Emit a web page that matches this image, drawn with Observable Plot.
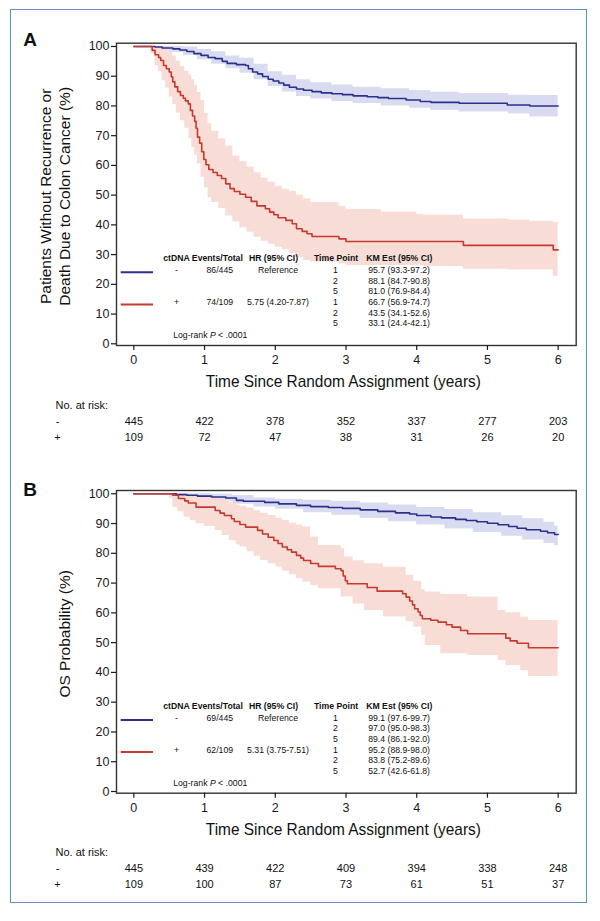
<!DOCTYPE html>
<html>
<head>
<meta charset="utf-8">
<script src="https://cdn.jsdelivr.net/npm/d3@7"></script>
<script src="https://cdn.jsdelivr.net/npm/@observablehq/plot@0.6"></script>
<style>
  body { margin: 0; background: #fff; }
  #page { position: relative; width: 600px; height: 921px; background: #fff; overflow: hidden; }
  #a, #b { position: absolute; left: 0; }
  #a { top: 0; }
  #b { top: 450px; }
  #border { position: absolute; left: 10.25px; top: 9.25px; width: 576.5px; height: 894px; box-sizing: border-box; border: 1.5px solid #5d92c8; pointer-events: none; }
</style>
</head>
<body>
<div id="page">
  <div id="a"></div>
  <div id="b"></div>
  <div id="border"></div>
</div>
<script>
// ---------- data ----------
const xTicks = [0, 1, 2, 3, 4, 5, 6];
const yTicks = [0, 10, 20, 30, 40, 50, 60, 70, 80, 90, 100];
const xTitle = "Time Since Random Assignment (years)";
const yTitleA = "Patients Without Recurrence or\nDeath Due to Colon Cancer (%)";
const yTitleB = "OS Probability (%)";
const panelLetters = ["A", "B"];
const groups = ["-", "+"];
const legendHeaders = ["ctDNA Events/Total", "HR (95% CI)", "Time Point", "KM Est (95% CI)"];
const timePoints = ["1", "2", "5"];
const logRankParts = ["Log-rank ", "P", " < .0001"];
const riskLabel = "No. at risk:";

const eventsA = ["86/445", "74/109"];
const hrA = ["Reference", "5.75 (4.20-7.87)"];
const kmA = ["95.7 (93.3-97.2)", "88.1 (84.7-90.8)", "81.0 (76.9-84.4)", "66.7 (56.9-74.7)", "43.5 (34.1-52.6)", "33.1 (24.4-42.1)"];
const riskA_neg = [445, 422, 378, 352, 337, 277, 203];
const riskA_pos = [109, 72, 47, 38, 31, 26, 20];

const eventsB = ["69/445", "62/109"];
const hrB = ["Reference", "5.31 (3.75-7.51)"];
const kmB = ["99.1 (97.6-99.7)", "97.0 (95.0-98.3)", "89.4 (86.1-92.0)", "95.2 (88.9-98.0)", "83.8 (75.2-89.6)", "52.7 (42.6-61.8)"];
const riskB_neg = [445, 439, 422, 409, 394, 338, 248];
const riskB_pos = [109, 100, 87, 73, 61, 51, 37];

// KM step curves [time, survival %]
const dfsNeg = [[0,100],[0.3,99.8],[0.4,99.5],[0.55,99.2],[0.65,98.8],[0.75,98.3],[0.85,97.6],[0.95,97.0],[1.05,96.3],[1.15,95.9],[1.25,95.0],[1.32,94.3],[1.45,93.9],[1.58,93.6],[1.62,92.5],[1.68,91.4],[1.75,90.8],[1.82,89.9],[1.9,89.0],[1.97,88.4],[2.05,87.7],[2.12,87.0],[2.2,86.3],[2.3,85.7],[2.4,85.3],[2.52,84.8],[2.65,84.4],[2.8,84.1],[2.95,83.8],[3.1,83.4],[3.3,83.1],[3.45,82.8],[3.6,82.5],[3.85,82.0],[4.05,81.5],[4.2,81.2],[4.6,80.9],[5.28,80.3],[5.6,80.0],[6.0,80.0]];
const dfsPos = [[0,100],[0.24,100],[0.26,98.7],[0.3,97.2],[0.35,96.3],[0.38,95.3],[0.42,93.6],[0.46,92.5],[0.5,91.4],[0.53,89.8],[0.55,88.1],[0.58,86.4],[0.62,84.8],[0.66,83.5],[0.7,82.6],[0.73,81.7],[0.77,80.7],[0.8,78.5],[0.83,76.6],[0.86,74.8],[0.88,72.5],[0.9,69.5],[0.93,67.5],[0.96,64.6],[0.99,62.0],[1.02,60.2],[1.06,58.6],[1.12,57.6],[1.18,56.6],[1.24,55.6],[1.3,53.8],[1.36,52.2],[1.42,51.2],[1.5,50.3],[1.58,49.3],[1.66,47.9],[1.74,46.4],[1.86,45.4],[1.92,44.3],[1.98,43.4],[2.04,42.4],[2.15,41.5],[2.24,40.4],[2.3,38.7],[2.38,37.8],[2.45,37.0],[2.52,36.1],[2.9,35.3],[3.0,34.4],[4.66,33.1],[5.93,31.6],[6.0,31.6]];
const osNeg = [[0,100],[0.5,100],[0.6,99.7],[0.75,99.5],[0.9,99.2],[1.1,98.9],[1.3,98.6],[1.45,97.8],[1.55,97.5],[1.85,97.1],[2.05,96.6],[2.3,96.1],[2.5,95.7],[2.75,95.4],[2.95,95.1],[3.2,94.6],[3.45,94.1],[3.7,93.6],[3.9,93.2],[4.0,92.7],[4.2,92.2],[4.35,91.9],[4.55,91.4],[4.7,91.0],[4.85,90.6],[5.0,90.1],[5.15,89.6],[5.3,89.0],[5.42,88.4],[5.55,87.9],[5.75,87.4],[5.85,86.9],[5.95,86.3],[6,86.3]];
const osPos = [[0,100],[0.5,100],[0.55,99.5],[0.63,98.4],[0.72,97.6],[0.77,96.9],[0.88,95.5],[1.15,94.4],[1.22,93.5],[1.28,92.7],[1.38,91.6],[1.42,90.7],[1.5,89.7],[1.58,88.8],[1.75,87.7],[1.82,86.5],[1.9,85.4],[1.98,84.3],[2.04,83.3],[2.1,82.1],[2.17,81.2],[2.23,80.4],[2.3,79.3],[2.36,78.4],[2.4,77.6],[2.5,76.6],[2.61,75.6],[2.85,74.8],[2.93,74.2],[2.96,72.4],[2.99,70.8],[3.02,69.8],[3.3,68.5],[3.44,67.3],[3.8,66.4],[3.85,65.3],[3.9,64.0],[3.94,62.7],[3.97,61.4],[4.02,60.3],[4.05,59.1],[4.08,58.0],[4.2,57.5],[4.3,56.9],[4.42,56.0],[4.5,55.2],[4.62,54.1],[4.72,53.0],[5.26,51.5],[5.32,50.6],[5.42,49.8],[5.58,48.3],[6.0,48.3]];

// confidence bands [time, lower, upper]
const dfsNegCI = [[0,100,100],[0.3,99,100],[0.5,98,100],[0.7,97,99.8],[0.9,95.5,99],[1.1,94,98.2],[1.3,92.5,96.8],[1.5,91,96],[1.7,88.8,94],[1.9,86.5,91.5],[2.1,84.7,90.3],[2.3,83.2,88.8],[2.5,82.3,87.8],[2.8,81.5,87.0],[3.1,80.8,86.3],[3.5,80,85.8],[3.9,79.2,85.2],[4.2,78.5,84.6],[4.6,78,84.2],[5.3,77.3,83.6],[5.6,76.3,83.5],[6,76.3,83.5]];
const dfsPosCI = [[0.24,97.5,100],[0.3,93.5,100],[0.35,91.5,100],[0.4,88.5,99.8],[0.45,86,99],[0.5,83,98],[0.55,80.5,96.8],[0.6,77.5,95],[0.66,75,93.3],[0.72,72.5,91.7],[0.78,69,90.5],[0.82,66,88.8],[0.86,63.5,86.8],[0.9,60.5,84.5],[0.95,56,81.8],[1.0,52.5,77.5],[1.05,49,74.0],[1.1,47.5,71.5],[1.2,45.5,69.0],[1.3,43,66.5],[1.4,41,63.2],[1.5,39,61.3],[1.6,37.5,59.5],[1.7,35.8,57.5],[1.8,34.5,55.8],[1.9,33.5,54.3],[2.0,32.5,53],[2.1,31.6,52],[2.2,30.3,51.3],[2.3,29,50],[2.4,28,48.8],[2.5,27.5,47.5],[2.9,26.8,46.3],[3.0,26.3,45.2],[3.5,26.3,44.3],[4.0,26.3,43.6],[4.1,26,43.2],[4.66,25.1,42.0],[5.3,24.8,41.6],[5.6,24.8,41.2],[5.93,22.7,40.8],[6.0,22.7,40.8]];
const osNegCI = [[0,100,100],[0.5,99.5,100],[0.8,98.5,100],[1.1,97.5,99.8],[1.4,96.5,99.4],[1.7,95.6,98.6],[2.0,94.8,98.2],[2.4,93.6,97.8],[2.8,92.8,97.5],[3.2,91.7,96.9],[3.6,90.6,96.2],[4.0,89.5,95.4],[4.4,88.2,94.7],[4.8,87,93.6],[5.2,85.7,92.6],[5.5,84.5,91.6],[5.8,83.3,90.4],[5.95,82.6,89.1],[6,82.6,89.1]];
const osPosCI = [[0.5,98.5,100],[0.55,95.5,100],[0.62,94,100],[0.71,92.1,99.8],[0.8,91,99.5],[0.88,89.9,99.1],[1.0,89,98.9],[1.15,87.7,98.5],[1.25,86,97.8],[1.35,84.2,97.0],[1.45,82.8,96.2],[1.5,82.1,95.8],[1.6,80.5,95.2],[1.7,79,94.3],[1.79,77.6,93.5],[1.9,76.5,92.7],[2.01,75.4,91.8],[2.1,74,91],[2.2,72.8,90.2],[2.3,71.5,89.5],[2.39,70.3,88.8],[2.5,69.2,85.5],[2.61,68.1,82.6],[2.93,65.3,81.5],[2.98,65.3,78.8],[3.1,63,77.5],[3.26,60.8,76.5],[3.53,58.6,75.3],[3.85,57,72.6],[3.96,55.2,70.5],[4.07,52.5,67.8],[4.12,49.0,67],[4.34,46.3,66.2],[4.72,45.7,65.3],[5.15,44,60.8],[5.26,42.3,60.0],[5.47,40.6,58.5],[5.58,38.6,57.4],[6,38.6,57.4]];

// ---------- styles ----------
const colors = ["#2c2f8c", "#c63a2e"];
const bandColors = ["#d9dcf1", "#f7dad4"];
const sans = "'Liberation Sans', Arial, Helvetica, sans-serif";

function panel(cfg) {
  const legFs = 8.7;
  const rowDy = i => -72.7 + i * 10.7;
  const ink = "#111";
  const marks = [
    Plot.areaY(cfg.negCI, {x: d => d[0], y1: d => d[1], y2: d => d[2], curve: "step-after", fill: bandColors[0]}),
    Plot.areaY(cfg.posCI, {x: d => d[0], y1: d => d[1], y2: d => d[2], curve: "step-after", fill: bandColors[1], fillOpacity: 0.92}),
    Plot.line(cfg.neg, {x: d => d[0], y: d => d[1], curve: "step-after", stroke: colors[0], strokeWidth: 1.6}),
    Plot.line(cfg.pos, {x: d => d[0], y: d => d[1], curve: "step-after", stroke: colors[1], strokeWidth: 1.6}),
    Plot.frame({stroke: "#333", strokeWidth: 1.4}),
    Plot.axisY({ticks: yTicks, tickFormat: d => String(d), tickSize: 5, tickPadding: 2, fontSize: 12.5, label: null, strokeWidth: 1.2}),
    Plot.axisX({ticks: xTicks, tickFormat: d => String(d), tickSize: 5, tickPadding: 5, fontSize: 12.5, label: null, strokeWidth: 1.2}),
    // panel letter
    Plot.text([cfg.letter], {frameAnchor: "top-left", textAnchor: "middle", dx: -86.5, dy: cfg.letterDy, fontSize: 19, fontWeight: "bold", fill: ink}),
    // axis titles
    Plot.text([xTitle], {frameAnchor: "bottom", textAnchor: "middle", dx: -3, dy: 41.5, fontSize: 17, fill: ink}),
    Plot.text([cfg.yTitle], {frameAnchor: "left", textAnchor: "middle", rotate: -90, dx: cfg.yTitleDx, dy: cfg.yTitleDy, fontSize: 15.5, lineHeight: 1.23, fill: ink}),
    // risk table
    Plot.text([riskLabel], {frameAnchor: "bottom-left", dx: -61, dy: 63, textAnchor: "start", fontSize: 11, fill: ink}),
    Plot.text([groups[0]], {frameAnchor: "bottom-left", dx: -59, dy: 79, textAnchor: "middle", fontSize: 11, fill: ink}),
    Plot.text([groups[1]], {frameAnchor: "bottom-left", dx: -59, dy: 95, textAnchor: "middle", fontSize: 11, fill: ink}),
    Plot.text(cfg.riskNeg, {x: (d, i) => xTicks[i], text: d => String(d), frameAnchor: "bottom", textAnchor: "middle", dy: 79, fontSize: 11, fill: ink}),
    Plot.text(cfg.riskPos, {x: (d, i) => xTicks[i], text: d => String(d), frameAnchor: "bottom", textAnchor: "middle", dy: 95, fontSize: 11, fill: ink}),
    // legend table header
    Plot.text([legendHeaders[0]], {frameAnchor: "bottom-left", dx: 46.7, dy: -84.5, textAnchor: "start", fontSize: legFs, fontWeight: "bold", fill: ink}),
    Plot.text([legendHeaders[1]], {frameAnchor: "bottom-left", dx: 157, dy: -84.5, textAnchor: "middle", fontSize: legFs, fontWeight: "bold", fill: ink}),
    Plot.text([legendHeaders[2]], {frameAnchor: "bottom-left", dx: 219.5, dy: -84.5, textAnchor: "middle", fontSize: legFs, fontWeight: "bold", fill: ink}),
    Plot.text([legendHeaders[3]], {frameAnchor: "bottom-left", dx: 249.7, dy: -84.5, textAnchor: "start", fontSize: legFs, fontWeight: "bold", fill: ink}),
    // swatches
    (index, scales, values, dims) => {
      const g = d3.create("svg:g");
      const left = dims.marginLeft, bottom = dims.height - dims.marginBottom;
      [rowDy(0), rowDy(3)].forEach((dy, i) => {
        g.append("line").attr("x1", left + 4.7).attr("x2", left + 37)
          .attr("y1", bottom + dy).attr("y2", bottom + dy)
          .attr("stroke", colors[i]).attr("stroke-width", 2);
      });
      return g.node();
    },
    Plot.text(cfg.logRank, {frameAnchor: "bottom-left", dx: 56.7, dy: -7.7, textAnchor: "start", fontSize: legFs, fill: ink})
  ];
  groups.forEach((g, gi) => {
    const dy = rowDy(gi * 3);
    marks.push(Plot.text([g], {frameAnchor: "bottom-left", dx: 60, dy, textAnchor: "middle", fontSize: legFs, fill: ink}));
    marks.push(Plot.text([cfg.events[gi]], {frameAnchor: "bottom-left", dx: 103.3, dy, textAnchor: "middle", fontSize: legFs, fill: ink}));
    marks.push(Plot.text([cfg.hr[gi]], {frameAnchor: "bottom-left", dx: 161.5, dy, textAnchor: "middle", fontSize: legFs, fill: ink}));
    timePoints.forEach((tp, ti) => {
      const r = gi * 3 + ti;
      marks.push(Plot.text([tp], {frameAnchor: "bottom-left", dx: 219, dy: rowDy(r), textAnchor: "middle", fontSize: legFs, fill: ink}));
      marks.push(Plot.text([cfg.km[r]], {frameAnchor: "bottom-left", dx: 251.7, dy: rowDy(r), textAnchor: "start", fontSize: legFs, fill: ink}));
    });
  });
  const svg = Plot.plot({
    width: 600,
    height: cfg.height,
    marginLeft: 116,
    marginRight: 24.3,
    marginTop: cfg.mt,
    marginBottom: cfg.mb,
    x: {domain: [-0.245, 6.255]},
    y: {domain: [-0.57, 101.1]},
    style: {fontFamily: sans, color: "#1a1a1a", background: "none", overflow: "visible"},
    marks
  });
  // italic P in log-rank note
  const full = logRankParts.join("");
  d3.select(svg).selectAll("text").filter(function() { return this.textContent === full; }).each(function() {
    const t = d3.select(this);
    t.text(null);
    logRankParts.forEach((p, i) => {
      const s = t.append("tspan").text(p);
      if (i === 1) s.attr("font-style", "italic");
    });
    t.style("white-space", "pre");
  });
  // condensed axis title (as in the original typeface)
  d3.select(svg).selectAll("text").filter(function() { return this.textContent === xTitle; })
    .attr("textLength", 275).attr("lengthAdjust", "spacingAndGlyphs");
  return svg;
}

document.getElementById("a").append(panel({
  letter: panelLetters[0], letterDy: -10.7, height: 450, mt: 42.7, mb: 105,
  neg: dfsNeg, pos: dfsPos, negCI: dfsNegCI, posCI: dfsPosCI,
  yTitle: yTitleA, yTitleDx: -62.5, yTitleDy: 2,
  riskNeg: riskA_neg, riskPos: riskA_pos, events: eventsA, hr: hrA, km: kmA,
  logRank: [logRankParts.join("")]
}));
document.getElementById("b").append(panel({
  letter: panelLetters[1], letterDy: -8, height: 455, mt: 40, mb: 112.3,
  neg: osNeg, pos: osPos, negCI: osNegCI, posCI: osPosCI,
  yTitle: yTitleB, yTitleDx: -53, yTitleDy: -8,
  riskNeg: riskB_neg, riskPos: riskB_pos, events: eventsB, hr: hrB, km: kmB,
  logRank: [logRankParts.join("")]
}));
</script>
</body>
</html>
